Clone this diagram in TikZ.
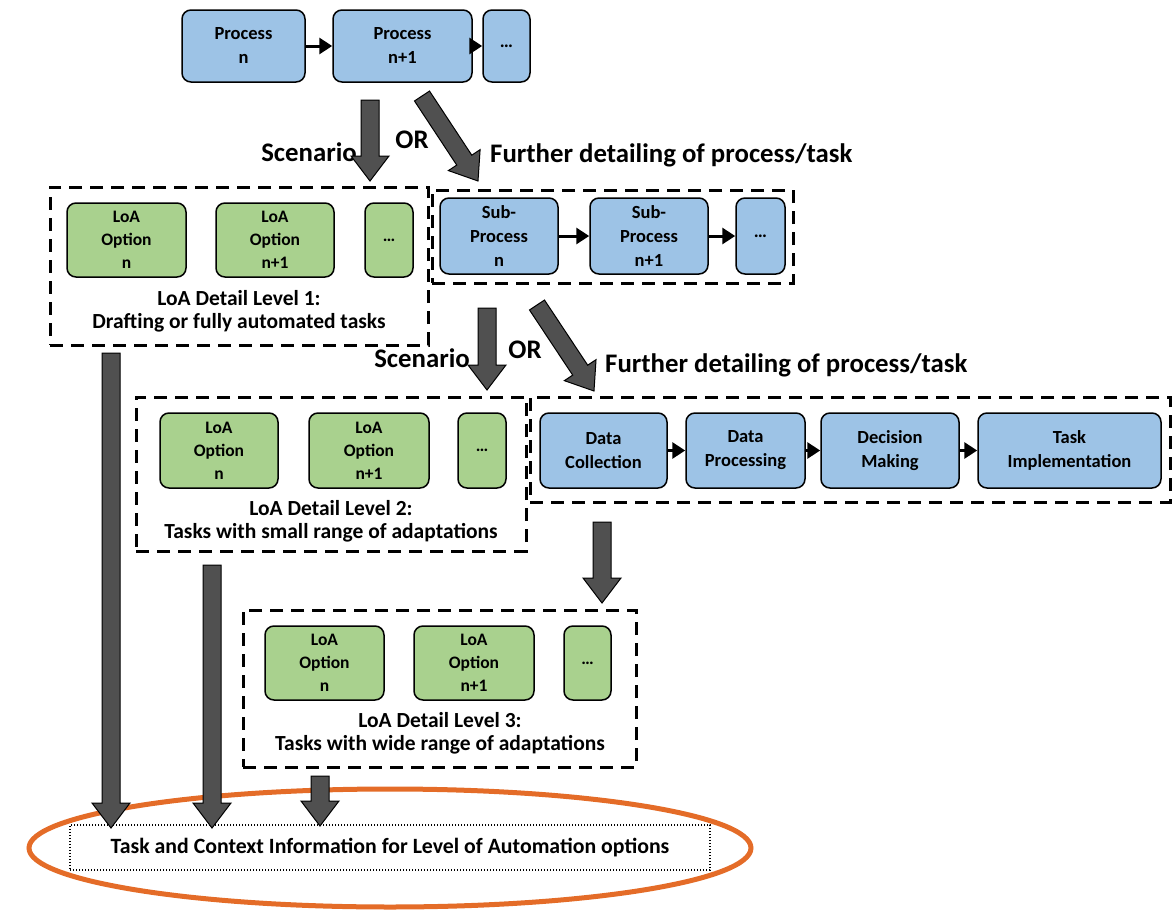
\documentclass[tikz,border=0pt]{standalone}
\usepackage{fontspec}
\setmainfont{Carlito}
\usetikzlibrary{shapes,arrows.meta,calc,positioning}
\definecolor{procblue}{RGB}{157,195,230}
\definecolor{loagreen}{RGB}{169,209,142}
\definecolor{fatgray}{RGB}{80,80,80}
\definecolor{ringorange}{RGB}{228,108,40}
% thick grey block arrow from #1 to #2
\newcommand{\fatarrow}[2]{%
	\path ($(#2)!25pt!(#1)$) coordinate (baseP);
	\draw[fat] ($(#1)!9pt!90:(#2)$) -- ($(baseP)!9pt!90:(#2)$) -- ($(baseP)!19pt!90:(#2)$)
		-- (#2) -- ($(baseP)!19pt!-90:(#2)$) -- ($(baseP)!9pt!-90:(#2)$) -- ($(#1)!9pt!-90:(#2)$) -- cycle;
}

\begin{document}
\begin{tikzpicture}[x=1pt,y=-1pt,% pixel grid, y pointing down
			every node/.style={
				align=center,  		% so that "\\" breaks lines
				inner sep=0pt
			},
			proc/.style={rectangle,rounded corners=9pt,draw=black,line width=1.5pt,fill=procblue,
				font=\bfseries\fontsize{18.5}{24}\selectfont},
			loa/.style={rectangle,rounded corners=9pt,draw=black,line width=1.5pt,fill=loagreen,
				font=\bfseries\fontsize{17.5}{23}\selectfont},
			grp/.style={rectangle,draw=black,line width=3pt,dash pattern=on 13pt off 8pt},
			lvl/.style={font=\bfseries\fontsize{21.5}{23}\selectfont},
			lbl/.style={font=\bfseries\fontsize{26.8}{28}\selectfont},
			flow/.style={-{Triangle[length=13pt,width=16pt]},line width=3pt},
			fat/.style={draw=black,fill=fatgray,line width=1pt,line join=miter}
		]
		\useasboundingbox (0,0) rectangle (1176,910);
		% top row of processes
		\node[proc,minimum width=123pt,minimum height=72pt](P1) at (243.5,46) {Process\\n};
		\node[proc,minimum width=139pt,minimum height=72pt](P2) at (402.5,46) {Process\\n+1};
		\node[proc,minimum width=47pt,minimum height=72pt](P3) at (506.5,46) {…};
		\draw[flow] (P1) -- (P2);
		\draw[flow] (P2) -- (P3);

		% LoA detail level 1
		\node[grp,minimum width=378pt,minimum height=158pt](G1) at (239,266) {};
		\node[loa,minimum width=119pt,minimum height=74pt](L1a) at (126.5,240) {LoA\\Option\\n};
		\node[loa,minimum width=118pt,minimum height=74pt](L1b) at (275,240) {LoA\\Option\\n+1};
		\node[loa,minimum width=48pt,minimum height=74pt](L1c) at (389,240) {…};
		\node[lvl](T1) at (239,311) {LoA Detail Level 1:\\Drafting or fully automated tasks};

		% sub-processes
		\node[grp,minimum width=361pt,minimum height=93pt](G2) at (612.5,236.5) {};
		\node[proc,minimum width=118pt,minimum height=76pt](S1) at (499,236) {Sub-\\Process\\n};
		\node[proc,minimum width=118pt,minimum height=76pt](S2) at (649,236) {Sub-\\Process\\n+1};
		\node[proc,minimum width=49pt,minimum height=76pt](S3) at (760.5,236) {…};
		\draw[flow] (S1) -- (S2);
		\draw[flow] (S2) -- (S3);

		% LoA detail level 2
		\node[grp,minimum width=390pt,minimum height=154pt](G3) at (331,474) {};
		\node[loa,minimum width=118pt,minimum height=75pt](L2a) at (219,450.5) {LoA\\Option\\n};
		\node[loa,minimum width=120pt,minimum height=75pt](L2b) at (369,450.5) {LoA\\Option\\n+1};
		\node[loa,minimum width=48pt,minimum height=75pt](L2c) at (482,450.5) {…};
		\node[lvl](T2) at (331,521) {LoA Detail Level 2:\\Tasks with small range of adaptations};

		% task steps
		\node[grp,minimum width=640pt,minimum height=105pt](G4) at (850,449.5) {};
		\node[proc,minimum width=127pt,minimum height=75pt](D1) at (603.5,450.5) {Data\\Collection};
		\node[proc,minimum width=119pt,minimum height=75pt](D2) at (745.5,450.5) {Data\\Processing};
		\node[proc,minimum width=138pt,minimum height=75pt](D3) at (890,450.5) {Decision\\Making};
		\node[proc,minimum width=183pt,minimum height=75pt](D4) at (1069.5,450.5) {Task\\Implementation};
		\draw[flow] (D1) -- (D2);
		\draw[flow] (D2) -- (D3);
		\draw[flow] (D3) -- (D4);

		% LoA detail level 3
		\node[grp,minimum width=393pt,minimum height=157pt](G5) at (439.5,688.5) {};
		\node[loa,minimum width=119pt,minimum height=74pt](L3a) at (324.5,663) {LoA\\Option\\n};
		\node[loa,minimum width=120pt,minimum height=74pt](L3b) at (474,663) {LoA\\Option\\n+1};
		\node[loa,minimum width=47pt,minimum height=74pt](L3c) at (587.5,663) {…};
		\node[lvl](T3) at (440,733.5) {LoA Detail Level 3:\\Tasks with wide range of adaptations};

		% result
		\node[rectangle,draw=black,line width=1.3pt,dash pattern=on 1.3pt off 1.7pt,minimum width=640pt,minimum height=45pt,
			font=\bfseries\fontsize{21.8}{24}\selectfont](R) at (390,847.5) {Task and Context Information for Level of Automation options};
		\node[ellipse,draw=ringorange,line width=5pt,minimum width=722pt,minimum height=118pt](E) at (390,848) {};

		% labels
		\node[lbl,anchor=east](Sc1) at (357,152) {Scenario};
		\node[lbl](Or1) at (412,140) {OR};
		\node[lbl,anchor=west](Fd1) at (490,155) {Further detailing of process/task};
		\node[lbl,anchor=east](Sc2) at (470,358) {Scenario};
		\node[lbl](Or2) at (525,350) {OR};
		\node[lbl,anchor=west](Fd2) at (605,365) {Further detailing of process/task};

		% block arrows
		\coordinate (A1s) at (370,100);  \coordinate (A1e) at (370,181);
		\coordinate (A2s) at (422,96);   \coordinate (A2e) at (478,181);
		\coordinate (A3s) at (487,308);  \coordinate (A3e) at (487,390);
		\coordinate (A4s) at (537,305);  \coordinate (A4e) at (594,391);
		\coordinate (A5s) at (602,522);  \coordinate (A5e) at (602,603);
		\coordinate (A6s) at (111,353);  \coordinate (A6e) at (111,828);
		\coordinate (A7s) at (212,565);  \coordinate (A7e) at (212,828);
		\coordinate (A8s) at (320,776);  \coordinate (A8e) at (320,826);
		\fatarrow{A1s}{A1e}
		\fatarrow{A2s}{A2e}
		\fatarrow{A3s}{A3e}
		\fatarrow{A4s}{A4e}
		\fatarrow{A5s}{A5e}
		\fatarrow{A6s}{A6e}
		\fatarrow{A7s}{A7e}
		\fatarrow{A8s}{A8e}
	\end{tikzpicture}
\end{document}
